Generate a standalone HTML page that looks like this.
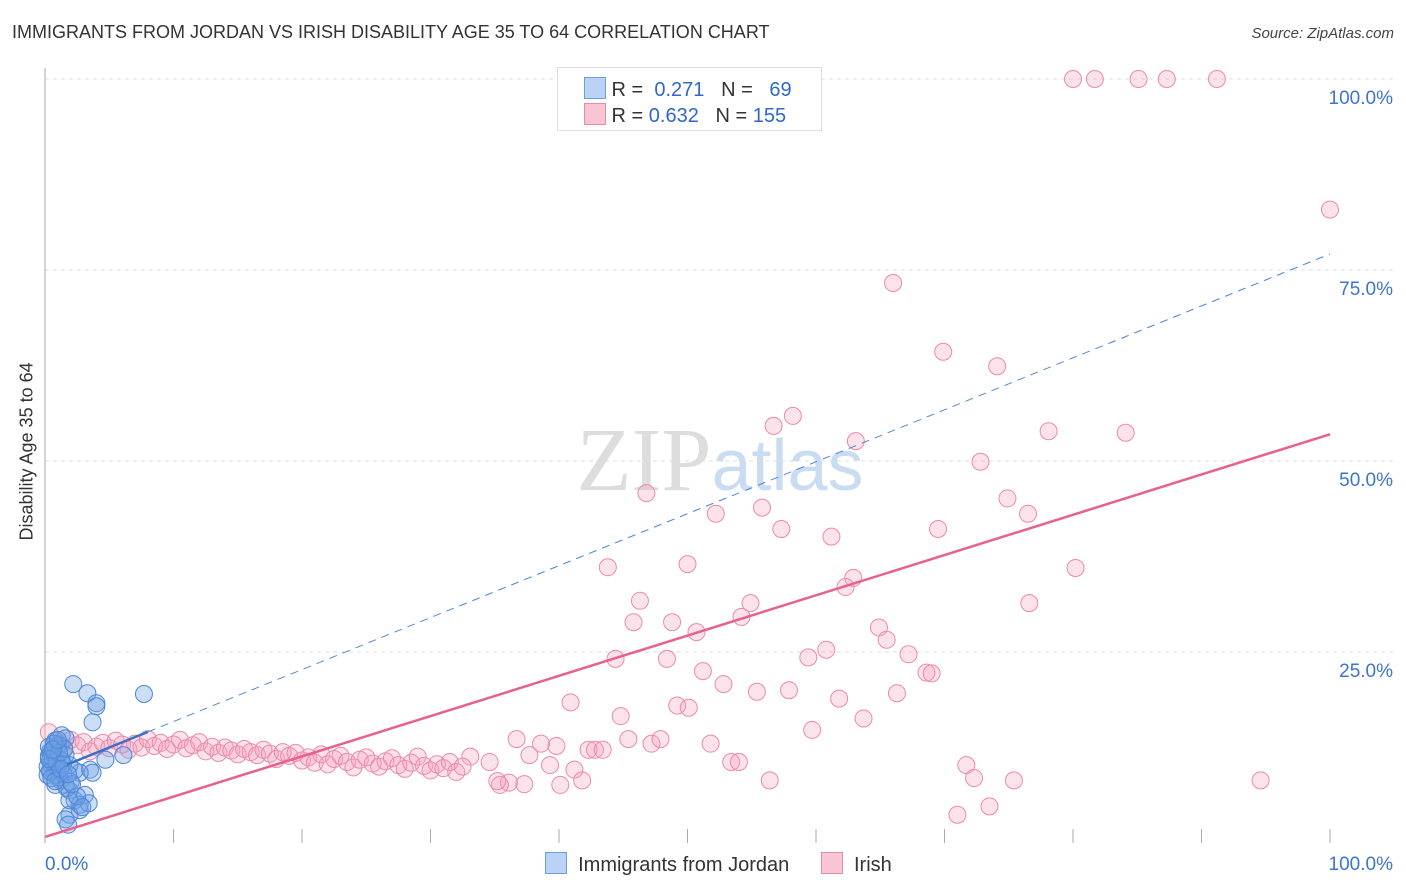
<!DOCTYPE html>
<html><head><meta charset="utf-8"><style>
body{margin:0;background:#fff;font-family:"Liberation Sans",sans-serif}
#wrap{position:relative;width:1406px;height:892px;overflow:hidden}
.t{position:absolute;white-space:nowrap}
</style></head><body>
<div id="wrap">
<div class="t" style="left:12px;top:22px;font-size:18px;color:#333">IMMIGRANTS FROM JORDAN VS IRISH DISABILITY AGE 35 TO 64 CORRELATION CHART</div>
<div class="t" style="right:12px;top:25px;font-size:15px;color:#444;font-style:italic">Source: ZipAtlas.com</div>
<div class="t" style="left:-58px;top:445px;font-size:18px;color:#333;transform:rotate(-90deg);width:170px;text-align:center">Disability Age 35 to 64</div>
<svg id="plot" width="1406" height="892" style="position:absolute;left:0;top:0"></svg>
<div style="position:absolute;left:557px;top:67px;width:263px;height:62px;border:1px solid #ddd;background:#fff;font-size:20px;color:#333">
 <div style="position:absolute;left:26px;top:9px"><span style="display:inline-block;width:20px;height:20px;background:#b9d2f5;border:1px solid #6d9ee0;vertical-align:-3px"></span> R = <span style="color:#2f68c8">&nbsp;0.271</span>&nbsp;&nbsp;&nbsp;N = <span style="color:#2f68c8">&nbsp;&nbsp;69</span></div>
 <div style="position:absolute;left:26px;top:35px"><span style="display:inline-block;width:20px;height:20px;background:#f9c5d4;border:1px solid #e88aa8;vertical-align:-3px"></span> R = <span style="color:#2f68c8">0.632</span>&nbsp;&nbsp;&nbsp;N = <span style="color:#2f68c8">155</span></div>
</div>
<div style="position:absolute;left:545px;top:852px;font-size:20px;color:#333">
 <span><span style="display:inline-block;width:20px;height:20px;background:#b9d2f5;border:1px solid #6d9ee0;vertical-align:-3px"></span>&nbsp; Immigrants from Jordan</span>
 <span style="margin-left:26px"><span style="display:inline-block;width:20px;height:20px;background:#f9c5d4;border:1px solid #e88aa8;vertical-align:-3px"></span>&nbsp; Irish</span>
</div>
</div>
<script>
const jordanX=[2.2,3.3,4.0,4.0,3.7,7.7,6.1,4.7,3.5,3.7,2.7,1.2,0.8,0.4,0.4,0.8,1.2,1.6,1.9,2.3,2.7,1.9,1.6,1.8,3.1,2.7,3.4,1.9,0.4,0.5,1.0,1.3,0.2,0.8,1.2,1.6,1.9,2.3,1.3,1.6,1.0,0.3,0.6,0.9,1.1,0.5,0.7,1.4,1.7,2.0,0.2,0.4,0.6,0.9,1.5,2.5,2.9,0.3,0.7,1.1,1.4,0.5,0.8,1.2,0.3,0.6,1.0,2.1,1.8];
const jordanY=[20.8,19.6,18.3,17.9,15.8,19.5,11.5,10.9,9.6,9.2,9.2,12.8,13.4,10.8,9.5,8.9,8.2,7.6,6.9,5.6,4.3,3.7,3.1,2.4,6.3,5.0,5.2,5.6,12.0,10.2,9.5,10.8,8.9,7.6,10.8,11.5,10.2,9.5,14.1,13.7,12.8,11.4,10.5,9.9,8.6,11.9,12.4,9.1,7.2,8.0,10.0,9.3,11.1,10.6,12.3,6.1,4.7,12.6,13.0,11.8,10.3,8.5,8.1,9.7,11.0,12.2,13.5,7.7,9.0];
const irishX=[80.0,81.7,85.1,87.3,91.2,100,66.0,69.9,74.1,58.2,56.7,63.1,72.8,78.1,84.1,46.8,52.2,55.8,74.9,76.5,57.3,61.2,69.5,43.8,50.0,80.2,62.9,62.3,46.3,54.9,45.8,54.2,48.8,50.7,76.6,64.9,65.5,67.2,44.4,48.4,59.4,60.8,51.2,68.6,69.0,52.8,55.4,57.9,66.3,61.8,40.9,49.2,50.1,63.7,44.8,59.7,51.8,45.4,47.2,47.9,36.7,38.6,39.8,42.3,42.8,53.4,54.0,56.4,71.7,72.3,75.4,94.6,71.0,73.5,41.8,37.3,36.1,35.4,35.2,33.1,34.6,37.7,39.3,41.2,40.1,43.4,
0.3,1,1.5,2,2.5,3,3.5,4,4.5,5,5.5,6,6.5,7,7.5,8,8.5,9,9.5,10,10.5,11,11.5,12,12.5,13,13.5,14,14.5,15,15.5,16,16.5,17,17.5,18,18.5,19,19.5,20,20.5,21,21.5,22,22.5,23,23.5,24,24.5,25,25.5,26,26.5,27,27.5,28,28.5,29,29.5,30,30.5,31,31.5,32,32.5];
const irishY=[100,100,100,100,100,82.9,73.3,64.3,62.4,55.9,54.6,52.6,49.9,53.9,53.7,45.8,43.1,43.9,45.1,43.1,41.1,40.1,41.1,36.1,36.5,36.0,34.7,33.5,31.7,31.4,28.9,29.6,28.9,27.6,31.4,28.2,26.6,24.7,24.1,24.1,24.3,25.3,22.5,22.3,22.2,20.8,19.8,20.0,19.6,18.9,18.4,18.0,17.7,16.3,16.6,14.8,13.0,13.6,13.0,13.6,13.6,13.0,12.7,12.2,12.2,10.6,10.6,8.2,10.2,8.5,8.2,8.2,3.7,4.8,8.2,7.7,7.9,7.6,8.1,11.3,10.6,11.5,10.2,9.6,7.6,12.2,
14.5,13.0,12.5,13.5,12.8,13.2,12.0,12.6,13.1,12.4,13.4,12.9,12.2,13.0,12.5,13.6,12.7,13.1,12.3,12.9,13.5,12.4,12.8,13.2,12.0,12.6,11.8,12.5,12.1,11.6,12.3,11.9,11.5,12.2,11.7,11.0,11.9,11.4,11.8,10.8,11.2,10.5,11.6,10.3,11.0,11.4,10.6,9.9,10.9,11.2,10.4,10.0,10.7,11.1,10.2,9.7,10.5,11.3,10.1,9.5,10.3,9.8,10.6,9.3,10.0];
const yTicks=[25,50,75,100];
const yTickLabels=["25.0%","50.0%","75.0%","100.0%"];
const jordanTrend=[[0,9.1],[100,77.1]];
const irishTrend=[[0,0.8],[100,53.5]];
const X0=45,X1=1330,Y0=843,Y1=79;
const sx=v=>X0+(X1-X0)*v/100, sy=v=>Y0-(Y0-Y1)*v/100;
const svg=document.getElementById('plot');const NS='http://www.w3.org/2000/svg';
function mk(t,a){const e=document.createElementNS(NS,t);for(const k in a)e.setAttribute(k,a[k]);svg.appendChild(e);return e;}
let wm=mk('text',{x:720,y:490,'font-size':90,'text-anchor':'middle',fill:'#ddd','font-family':'Liberation Serif'});


wm.innerHTML='ZIP<tspan fill="#c9dcf2" font-family="Liberation Sans" font-size="72">atlas</tspan>';
yTicks.forEach((v,i)=>{
 const g=mk('line',{x1:X0,x2:1393,y1:sy(v),y2:sy(v),stroke:'#ddd','stroke-dasharray':'4,4'});
 
 
 const t=mk('text',{x:1393,y:sy(v)+25,'text-anchor':'end','font-size':19,fill:'#3d74cc','font-family':'Liberation Sans'});
 
 
 t.textContent=yTickLabels[i];
});
const ax=mk('line',{x1:X0,x2:X0,y1:68,y2:Y0,stroke:'#aaa'});


for(let i=0;i<=10;i++){const tk=mk('line',{x1:sx(i*10),x2:sx(i*10),y1:829,y2:Y0,stroke:'#aaa'});
 
 }
[['0.0%',45,'start'],['100.0%',1393,'end']].forEach(a=>{const t=mk('text',{x:a[1],y:870,'text-anchor':a[2],'font-size':19,fill:'#3d74cc','font-family':'Liberation Sans'});
 
 
 t.textContent=a[0];});
for(let i=0;i<irishX.length;i++){const c=mk('circle',{cx:sx(irishX[i]),cy:sy(irishY[i]),r:8.5,fill:'rgba(246,160,188,0.3)',stroke:'#ec8aab','stroke-width':1});
 
 }
for(let i=0;i<jordanX.length;i++){const c=mk('circle',{cx:sx(jordanX[i]),cy:sy(jordanY[i]),r:8.5,fill:'rgba(110,160,230,0.35)',stroke:'#4f86d6','stroke-width':1});
 
 }
const it=mk('line',{x1:sx(irishTrend[0][0]),y1:sy(irishTrend[0][1]),x2:sx(irishTrend[1][0]),y2:sy(irishTrend[1][1]),stroke:'#e8608e','stroke-width':2.5});


const jd=mk('line',{x1:sx(8),y1:sy(jordanTrend[0][1]+8*0.68),x2:sx(jordanTrend[1][0]),y2:sy(jordanTrend[1][1]),stroke:'#4f86d6','stroke-width':1,'stroke-dasharray':'8,6'});


const js=mk('line',{x1:sx(1.7),y1:sy(jordanTrend[0][1]+1.7*0.68),x2:sx(8),y2:sy(jordanTrend[0][1]+8*0.68),stroke:'#3a70c8','stroke-width':2.5});


</script>
</body></html>
